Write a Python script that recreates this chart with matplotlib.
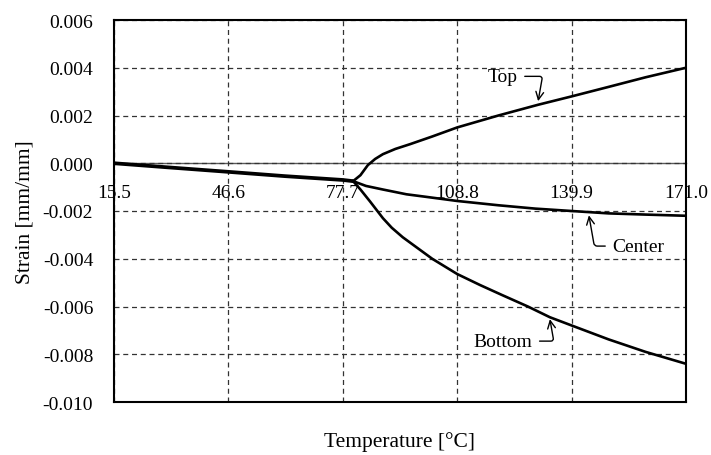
import matplotlib
matplotlib.use("Agg")
import matplotlib.pyplot as plt
import numpy as np

plt.rcParams['font.family'] = ['Liberation Serif', 'DejaVu Serif']

# Shared segment (all three gauges coincide)
shared_T = [15.5, 30.0, 46.6, 62.0, 77.7, 80.5]
shared_strain = [0.0, -0.00017, -0.00036, -0.00054, -0.00070, -0.00075]

top_T = [80.5, 82.5, 84.5, 86.5, 88.6, 92.0, 96.0, 102.0, 108.8, 120.0, 130.8, 139.9, 150.0, 160.0, 171.0]
top_strain = [-0.00075, -0.0005, -0.00008, 0.00018, 0.00038, 0.0006, 0.0008, 0.00112, 0.0015,
              0.0020, 0.00245, 0.0028, 0.0032, 0.0036, 0.0040]

center_T = [80.5, 84.0, 88.6, 95.0, 100.0, 108.8, 120.0, 130.0, 139.9, 150.0, 160.0, 171.0]
center_strain = [-0.00075, -0.00095, -0.0011, -0.0013, -0.0014, -0.00158, -0.00176, -0.0019,
                 -0.0020, -0.0021, -0.00215, -0.0022]

bottom_T = [80.5, 82.5, 85.1, 88.6, 91.0, 94.0, 98.0, 102.0, 108.8, 115.0, 121.0, 128.0, 134.0,
            140.0, 150.0, 160.0, 171.0]
bottom_strain = [-0.00075, -0.0011, -0.0016, -0.0023, -0.0027, -0.0031, -0.00355, -0.0040,
                 -0.00464, -0.0051, -0.00552, -0.0060, -0.00645, -0.0068, -0.00738, -0.0079,
                 -0.0084]

x_ticks = [15.5, 46.6, 77.7, 108.8, 139.9, 171.0]
y_ticks = [-0.010, -0.008, -0.006, -0.004, -0.002, 0.000, 0.002, 0.004, 0.006]

fig = plt.figure(figsize=(7.11, 4.56), dpi=100)
fig.subplots_adjust(left=114/711, right=686/711, top=1-21/456, bottom=1-403/456)
ax = fig.add_subplot(111)

lw = 1.9
ax.plot(shared_T, shared_strain, color='black', lw=lw + 0.8, solid_capstyle='butt')
ax.plot(top_T, top_strain, color='black', lw=lw)
ax.plot(center_T, center_strain, color='black', lw=lw)
ax.plot(bottom_T, bottom_strain, color='black', lw=lw)

ax.set_xlim(15.5, 171.0)
ax.set_ylim(-0.010, 0.006)
ax.set_xticks(x_ticks)
ax.set_yticks(y_ticks)
ax.set_yticklabels([f"{v:.3f}" if abs(v) > 1e-12 else "0.000" for v in y_ticks])
ax.tick_params(axis='x', labelbottom=False, length=0)
ax.tick_params(axis='y', length=0, pad=15, labelsize=14)
ax.grid(True, linestyle=(0, (4, 3)), color='0.2', lw=0.9)
for s in ax.spines.values():
    s.set_linewidth(1.5)
    s.set_color('black')

# x tick labels along the zero line
zero_frac = (0 - (-0.010)) / (0.006 - (-0.010))
sec = ax.secondary_xaxis(zero_frac)
sec.set_alignment('bottom')
sec.set_xticks(x_ticks)
sec.set_xticklabels([f"{v:.1f}" for v in x_ticks])
sec.tick_params(length=0, pad=15, labelsize=14)
sec.spines['bottom'].set_linewidth(1.0)
sec.spines['bottom'].set_color('0.35')

ax.set_xlabel('Temperature [°C]', fontsize=15.5, labelpad=21)
ax.set_ylabel('Strain [mm/mm]', fontsize=15.5, labelpad=6)

ap = dict(arrowstyle='->', color='black', lw=1.0, shrinkA=3, shrinkB=0)
ax.annotate('Top', xy=(130.8, 0.0026), xytext=(121.2, 0.00364), ha='center', va='center',
            fontsize=14,
            arrowprops=dict(ap, relpos=(1, 0.5), connectionstyle='angle,angleA=0,angleB=80,rad=3'))
ax.annotate('Center', xy=(144.6, -0.00218), xytext=(158.0, -0.00347), ha='center', va='center',
            fontsize=14,
            arrowprops=dict(ap, relpos=(0, 0.5), connectionstyle='angle,angleA=0,angleB=100,rad=3'))
ax.annotate('Bottom', xy=(134.0, -0.00653), xytext=(121.3, -0.00745), ha='center', va='center',
            fontsize=14,
            arrowprops=dict(ap, relpos=(1, 0.5), connectionstyle='angle,angleA=0,angleB=100,rad=3'))

fig.savefig('out.png', dpi=100)
